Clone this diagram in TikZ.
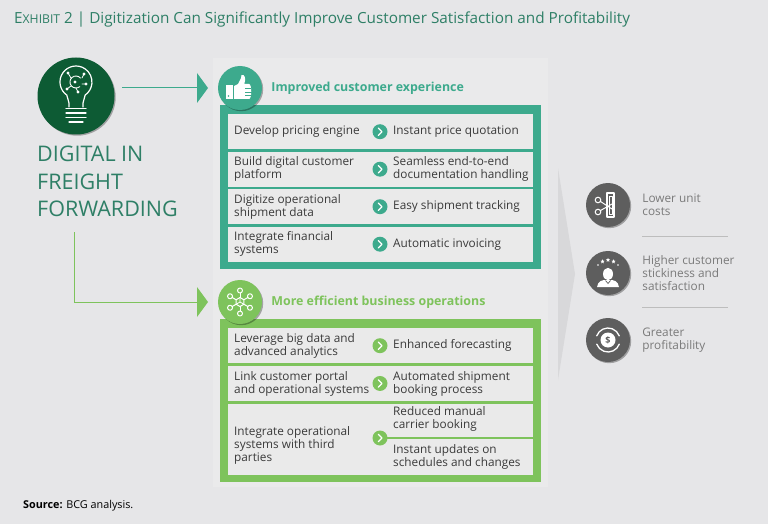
\documentclass[tikz,border=0pt]{standalone}
\usepackage{fontspec}
\setmainfont{Open Sans}
\usetikzlibrary{positioning,shapes.geometric,shadows}
\definecolor{bggray}{HTML}{E6E6E8}
\definecolor{panelgray}{HTML}{EAEAEB}
\definecolor{rowgray}{HTML}{EAEAEA}
\definecolor{teal}{HTML}{3DAA8D}
\definecolor{lgreen}{HTML}{7EC35C}
\definecolor{titlegreen}{HTML}{2E7F66}
\definecolor{bulbgreen}{HTML}{0D5B34}
\definecolor{icongray}{HTML}{5E5E5E}
\definecolor{textgray}{HTML}{7A7A7A}
\definecolor{rowtext}{HTML}{3A3A3A}
\definecolor{chevgray}{HTML}{D8D8DA}
\definecolor{sepgray}{HTML}{BDBDBD}
\newcommand\chevmark[1]{\draw[white,line width=1.3pt,line cap=round,line join=round] (#1) ++(-1.6,-3.6) -- ++(3.6,3.6) -- ++(-3.6,3.6);}
\begin{document}
\begin{tikzpicture}[x=1pt,y=-1pt,
    rowbox/.style={fill=rowgray,inner sep=0pt,minimum width=305pt,anchor=north west},
    rowtxt/.style={anchor=west,align=left,inner sep=0pt,text=rowtext,font=\fontsize{11.8}{13}\selectfont},
    chev/.style={circle,fill=#1,minimum size=15pt,inner sep=0pt},
    shadowed/.style={drop shadow={shadow xshift=1.2pt,shadow yshift=-1.2pt,opacity=0.3,fill=black}},
    head/.style={circle,fill=#1,minimum size=44pt,inner sep=0pt,shadowed},
    headtxt/.style={anchor=west,inner sep=0pt,text=#1,font=\fontsize{12.4}{14}\selectfont\bfseries},
    gicon/.style={circle,fill=icongray,minimum size=44pt,inner sep=0pt,shadowed},
    restxt/.style={anchor=west,align=left,inner sep=0pt,text=textgray,font=\fontsize{11.8}{13}\selectfont},
    icon/.style={white,line width=1.2pt,line cap=round,line join=round}]
    \fill[bggray] (0,0) rectangle (768,524);
    \useasboundingbox (0,0) rectangle (768,524);
    \fill[panelgray] (213,58) rectangle (548,487);
    \node[anchor=west,inner sep=0pt,text=titlegreen,font=\fontsize{15.3}{18}\selectfont] (title) at (14,20)
        {E{\fontsize{12.2}{14}\selectfont XHIBIT} 2 | Digitization Can Significantly Improve Customer Satisfaction and Profitability};
    % left side
    \node[circle,fill=bulbgreen,minimum size=77pt,inner sep=0pt,shadowed] (bulb) at (76,96) {};
    \begin{scope}[shift={(bulb.center)}]
        \draw[icon] (-7,11)--(-7,7)--(-9.2,-0.9) arc[start angle=125,end angle=415,radius=16]--(7,7)--(7,11);
        \draw[icon] (-10,12.5)--(10,12.5) (-10,17)--(10,17) (-10,21.5)--(10,21.5) (-7,26)--(7,26);
        \draw[icon,line width=0.9pt] (3.8,-9.4) arc[start angle=50,end angle=320,radius=6];
        \draw[icon,line width=0.8pt] (-5,-18)--(-8,-23) (6,-18)--(8,-22) (6,-12)--(10,-12) (-5,-10)--(-9,-7) (0,-8)--(2,-4);
        \foreach \p in {(-8,-23),(8,-22),(10,-12),(-9,-7),(2,-4),(-1,-14)}
            {\fill[white] \p circle (1.6);}
    \end{scope}
    \node[anchor=north west,align=left,inner sep=0pt,text=titlegreen,font=\fontsize{21.5}{27.5}\selectfont] (dig) at (37,146)
        {DIGITAL IN\\FREIGHT\\FORWARDING};
    % improved customer experience
    \fill[teal] (220,105) rectangle (541,268.5);
    \node[head=teal] (hx) at (240,88) {};
    \node[headtxt=teal,right=9pt of hx] (hxt) {Improved customer experience};
    \begin{scope}[shift={(hx.center)}]
        \fill[white] (-14,-3) rectangle (-7,11);
        \fill[teal] (-11.5,8) circle (0.9);
        \fill[white] (-6,11)--(-6,-2)--(-2,-4)--(1,-10)--(1.5,-13) .. controls (5,-14) and (6,-9) .. (4.5,-5)--(4,-4)--(9,-4) .. controls (12,-4) and (12,11) .. (9,11)--cycle;
        \draw[teal,line width=0.8pt] (5,0)--(11,0) (5,4)--(11.5,4) (5,7.5)--(11,7.5);
    \end{scope}
    \foreach \n/\y/\l/\r in {1/114/{Develop pricing engine}/{Instant price quotation},
        2/151.5/{Build digital customer\\platform}/{Seamless end-to-end\\documentation handling},
        3/189/{Digitize operational\\shipment data}/{Easy shipment tracking},
        4/226.5/{Integrate financial\\systems}/{Automatic invoicing}}
        {
            \node[rowbox,minimum height=35pt] (ux\n) at (228,\y) {};
            \node[rowtxt] at ([xshift=6pt]ux\n.west) {\l};
            \node[chev=teal] (uc\n) at ([xshift=152pt]ux\n.west) {};
            \chevmark{uc\n}
            \node[rowtxt] at ([xshift=165pt]ux\n.west) {\r};
        }
    % more efficient business operations
    \fill[lgreen] (220,319) rectangle (541,482);
    \node[head=lgreen] (hb) at (240,302) {};
    \node[headtxt=lgreen,right=9pt of hb] (hbt) {More efficient business operations};
    \begin{scope}[shift={(hb.center)}]
        \draw[icon,line width=1pt] (30:4.5)--(90:4.5)--(150:4.5)--(210:4.5)--(270:4.5)--(330:4.5)--cycle;
        \draw[icon,line width=0.8pt] (0,0)--(30:4.5) (0,0)--(150:4.5) (0,0)--(270:4.5);
        \foreach \a in {30,90,...,330}
            {
                \draw[icon,line width=1pt] (\a:4.5)--(\a:9);
                \draw[icon,line width=1pt] (\a:11.5) circle (2.5);
            }
    \end{scope}
    \foreach \n/\y/\h/\l/\r in {1/328/35/{Leverage big data and\\advanced analytics}/{Enhanced forecasting},
        2/366/34.5/{Link customer portal\\and operational systems}/{Automated shipment\\booking process}}
        {
            \node[rowbox,minimum height=\h pt] (bx\n) at (228,\y) {};
            \node[rowtxt] at ([xshift=6pt]bx\n.west) {\l};
            \node[chev=lgreen] (bc\n) at ([xshift=152pt]bx\n.west) {};
            \chevmark{bc\n}
            \node[rowtxt] at ([xshift=165pt]bx\n.west) {\r};
        }
    \node[rowbox,minimum height=71.5pt] (bx3) at (228,403.5) {};
    \draw[lgreen,line width=2.5pt] (373,438)--(bx3.east |- 0,438);
    \node[rowtxt] at (234,445) {Integrate operational\\systems with third\\parties};
    \node[chev=lgreen] (bc3) at (380,438) {};
    \chevmark{bc3}
    \node[rowtxt] at (393,419) {Reduced manual\\carrier booking};
    \node[rowtxt] at (393,457) {Instant updates on\\schedules and changes};
    % arrows
    \coordinate (a1) at (122,88);
    \coordinate (t1) at (197,88);
    \draw[teal,line width=1pt] (a1)--(t1);
    \fill[teal] (t1) ++(0,-15)--++(11,15)--++(-11,15)--cycle;
    \coordinate (a2) at (74,232);
    \coordinate (t2) at (197,302);
    \draw[lgreen,line width=1pt] (a2)|-(t2);
    \fill[lgreen] (t2) ++(0,-15)--++(11,15)--++(-11,15)--cycle;
    % results
    \fill[chevgray] (558,168)--(575,274)--(558,380)--cycle;
    \node[gicon] (r1) at (608,205) {};
    \node[gicon] (r2) at (608,273) {};
    \node[gicon] (r3) at (608,340) {};
    \begin{scope}[shift={(r1.center)}]
        \draw[icon,line width=1.1pt] (-1,-12) rectangle (6,12);
        \draw[icon,line width=0.6pt] (0.8,-9) rectangle (4.2,9);
        \draw[icon,line width=1pt] (-10,-5) circle (2.8) (-10,7) circle (2.8);
        \draw[icon,line width=1pt] (-7.5,-3.5)--(4,4) (-7.5,5.5)--(4,-1);
    \end{scope}
    \begin{scope}[shift={(r2.center)}]
        \fill[white] (0,1) ellipse (5 and 6.2);
        \fill[white] (-11,14) .. controls (-10,8) and (-6,7) .. (-2,7)--(2,7) .. controls (6,7) and (10,8) .. (11,14)--cycle;
        \draw[icongray,line width=0.7pt] (-2.5,7.5)--(0,10.5)--(2.5,7.5);
        \foreach \p in {(0,-13),(-5.5,-11.5),(5.5,-11.5)}
            {\node[star,star points=5,star point ratio=2.3,fill=white,minimum size=4.5pt,inner sep=0pt] at \p {};}
        \fill[white] (-10,-8) circle (0.8) (10,-8) circle (0.8);
    \end{scope}
    \begin{scope}[shift={(r3.center)}]
        \fill[white] (0,0) circle (7.5);
        \node[text=icongray,inner sep=0pt,font=\bfseries\fontsize{9}{9}\selectfont] at (0,0) {\$};
        \draw[icon,line width=1.3pt] (20:12) arc[start angle=20,end angle=160,radius=12];
        \draw[icon,line width=1.3pt] (200:12) arc[start angle=200,end angle=340,radius=12];
    \end{scope}
    \node[restxt,right=12pt of r1] (rt1) {Lower unit\\costs};
    \node[restxt,right=12pt of r2] (rt2) {Higher customer\\stickiness and\\satisfaction};
    \node[restxt,right=12pt of r3] (rt3) {Greater\\profitability};
    \draw[sepgray,line width=0.8pt] (642,236)--(728,236) (642,307)--(728,307);
    \node[anchor=west,inner sep=0pt,font=\fontsize{10.8}{12}\selectfont] (src) at (23,506) {\textbf{Source:} BCG analysis.};
\end{tikzpicture}
\end{document}
